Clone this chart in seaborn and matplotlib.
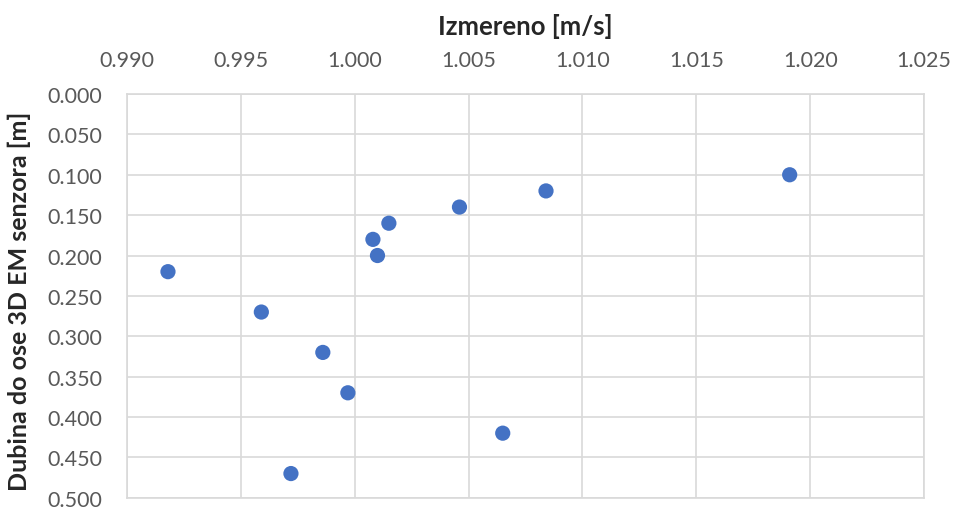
import pandas as pd
import seaborn as sns
import matplotlib.pyplot as plt
from matplotlib.ticker import MultipleLocator, FormatStrFormatter

# measured velocity [m/s] vs depth of 3D EM sensor axis [m]
izmereno = [1.0191, 1.0084, 1.0046, 1.0015, 1.0008, 1.0010, 0.9918, 0.9959,
            0.9986, 0.9997, 1.0065, 0.9972]
dubina = [0.10, 0.12, 0.14, 0.16, 0.18, 0.20, 0.22, 0.27, 0.32, 0.37, 0.42, 0.47]

df = pd.DataFrame({'izmereno': izmereno, 'dubina': dubina})

sns.set_style('white')
plt.rcParams['font.family'] = ['Lato', 'DejaVu Sans']

fig = plt.figure(figsize=(9.54, 5.1), dpi=100)
ax = fig.add_axes([0.1331, 0.022, 0.8355, 0.7917])

sns.scatterplot(ax=ax, data=df, x='izmereno', y='dubina', color='#4472C4',
                s=120, edgecolor='none', zorder=3, clip_on=False)

ax.set_xlim(0.990, 1.025)
ax.set_ylim(0.5, 0.0)
ax.xaxis.set_major_locator(MultipleLocator(0.005))
ax.yaxis.set_major_locator(MultipleLocator(0.05))
ax.xaxis.set_major_formatter(FormatStrFormatter('%.3f'))
ax.yaxis.set_major_formatter(FormatStrFormatter('%.3f'))
ax.xaxis.tick_top()
ax.xaxis.set_label_position('top')

ax.grid(True, color='#D9D9D9', linewidth=1.2)
for sp in ax.spines.values():
    sp.set_color('#D9D9D9')
    sp.set_linewidth(1.2)

ax.tick_params(axis='both', length=0, labelsize=15.5, labelcolor='#595959')
ax.tick_params(axis='x', pad=17)
ax.tick_params(axis='y', pad=18)

ax.set_xlabel('Izmereno [m/s]', fontsize=18.5, fontweight='bold',
              va='center', ha='center')
ax.set_ylabel('Dubina do ose 3D EM senzora [m]', fontsize=18, fontweight='bold',
              va='center', ha='center')
ax.xaxis.set_label_coords(0.5, 1.17)
ax.yaxis.set_label_coords(-0.135, 0.49)

plt.savefig('out.png', dpi=100)
